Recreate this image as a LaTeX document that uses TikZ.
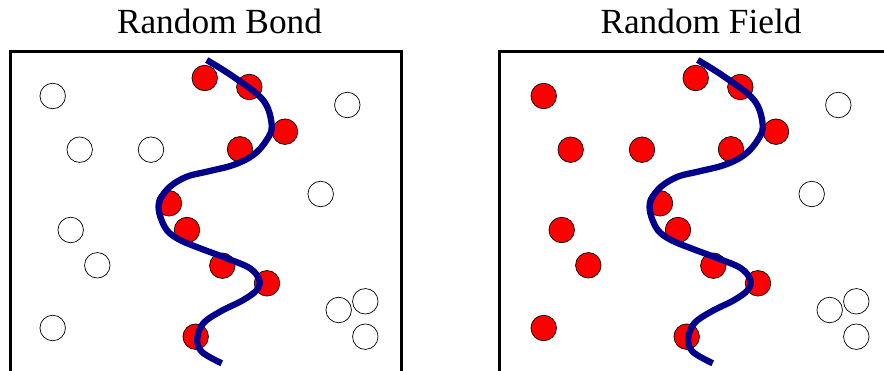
\documentclass[tikz,border=0pt]{standalone}
\usepackage{fontspec}
\setmainfont{Liberation Serif}
\definecolor{wavecol}{RGB}{0,0,140}
\begin{document}
\begin{tikzpicture}[x=1pt,y=-1pt,
  site/.style={circle,draw=black,line width=0.7pt,minimum size=25.5pt,inner sep=0pt,fill=white},
  hot/.style={site,fill=red},
  frame/.style={draw=black,line width=3pt},
  wave/.style={draw=wavecol,line width=6.3pt},
  title/.style={font=\fontsize{35.3}{40}\selectfont,anchor=base,inner sep=0pt}]
\useasboundingbox (0,0) rectangle (884,371);
\clip (0,0) rectangle (884,371);
\node[title] (tb) at (219.5,33.5) {Random Bond};
\node[title] (tf) at (701,33.5) {Random Field};
% left panel
\begin{scope}
\draw[frame] (10,380) -- (10,51.5) -- (401,51.5) -- (401,380);
\foreach \n/\x/\y in {a1/52.7/96, a2/79.7/149.7, a3/151/149.7, a4/70.7/230, a5/97.3/265.3, a6/52.7/328}
  \node[site] (L\n) at (\x,\y) {};
\foreach \n/\x/\y in {b1/347.3/105, b2/320.7/194, b3/338.7/310, b4/365.3/301.3, b5/365.3/336.7}
  \node[site] (L\n) at (\x,\y) {};
\foreach \n/\x/\y in {c1/204.7/78, c2/249.3/87, c3/285/131.7, c4/240/149.3, c5/169/203.3, c6/187/230, c7/222.3/265.7, c8/267/283.3, c9/195.7/336.7}
  \node[hot] (L\n) at (\x,\y) {};
\draw[wave] plot[smooth,tension=0.6] coordinates {(206.7,60) (233.3,76.7) (263,100) (271.7,125) (266.7,140) (253.3,155) (233.3,165) (206.7,171.7) (186.7,176.7) (170,186.7) (160,200) (159.3,213) (166.7,230) (180,240) (200,248.3) (226.7,258.3) (250,268.3) (259.3,280) (256.7,290) (243.3,300) (220,311.7) (203.3,323.3) (197.3,338.3) (201.7,351.7) (221.7,363.3)};
\end{scope}
% right panel
\begin{scope}[shift={(491,0)}]
\draw[frame] (8,380) -- (8,51.5) -- (399,51.5) -- (399,380);
\foreach \n/\x/\y in {a1/52.7/96, a2/79.7/149.7, a3/151/149.7, a4/70.7/230, a5/97.3/265.3, a6/52.7/328}
  \node[hot] (R\n) at (\x,\y) {};
\foreach \n/\x/\y in {b1/347.3/105, b2/320.7/194, b3/338.7/310, b4/365.3/301.3, b5/365.3/336.7}
  \node[site] (R\n) at (\x,\y) {};
\foreach \n/\x/\y in {c1/204.7/78, c2/249.3/87, c3/285/131.7, c4/240/149.3, c5/169/203.3, c6/187/230, c7/222.3/265.7, c8/267/283.3, c9/195.7/336.7}
  \node[hot] (R\n) at (\x,\y) {};
\draw[wave] plot[smooth,tension=0.6] coordinates {(206.7,60) (233.3,76.7) (263,100) (271.7,125) (266.7,140) (253.3,155) (233.3,165) (206.7,171.7) (186.7,176.7) (170,186.7) (160,200) (159.3,213) (166.7,230) (180,240) (200,248.3) (226.7,258.3) (250,268.3) (259.3,280) (256.7,290) (243.3,300) (220,311.7) (203.3,323.3) (197.3,338.3) (201.7,351.7) (221.7,363.3)};
\end{scope}
\end{tikzpicture}
\end{document}
